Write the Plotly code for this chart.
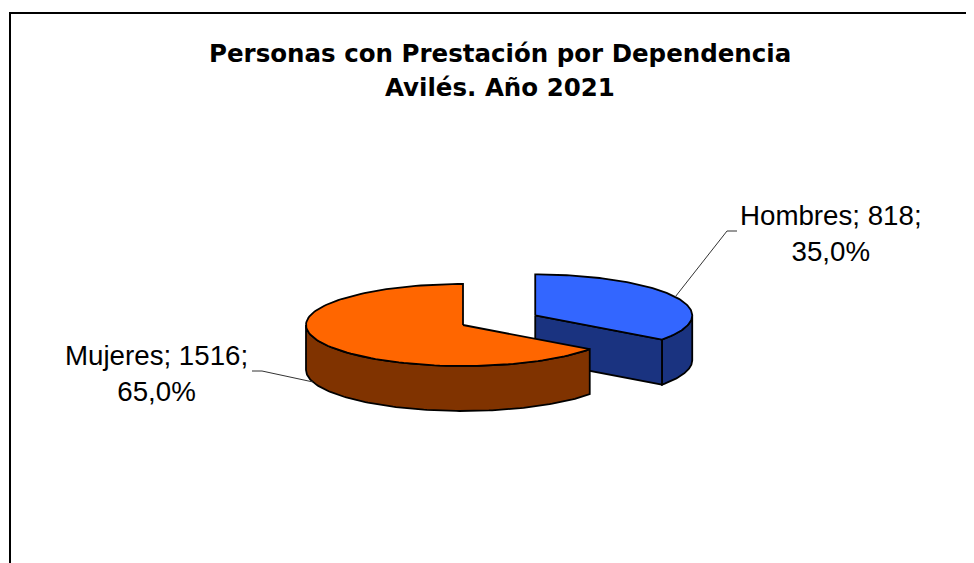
import math
import plotly.graph_objects as go

# ---- data ----
categories = ["Hombres", "Mujeres"]
values = [818, 1516]
title_lines = ["Personas con Prestación por Dependencia", "Avilés. Año 2021"]

# ---- style ----
top_colors = ["#3366FF", "#FF6600"]
side_colors = ["#1A3380", "#803300"]
W, H = 974, 563
PAGE_OFF = 8               # browser default body margin
CX, CY = 463, 325          # pie centre (pixel space)
RX, RY, DEPTH = 157, 41, 45
PULL = [81, 0]             # explosion distance per slice
LEADER_SHIFT = [0, -10]    # angular shift of leader anchor (deg)
LEADER_DROP = [0, 1.0]     # fraction of depth for leader anchor
LABEL_POS = [(831, 233), (156, 373)]
ELBOW = [[(727, 231), (737, 231)], [(262, 371), (252, 371)]]
OUTLINE = dict(color="black", width=1.8)
N = 120


def ell(cx, cy, th, dz=0.0):
    r = math.radians(th)
    return cx + RX * math.cos(r), cy - RY * math.sin(r) + dz


def arc(cx, cy, a, b, dz=0.0):
    pts = []
    for k in range(N + 1):
        th = a + (b - a) * k / N
        pts.append(ell(cx, cy, th, dz))
    return pts


def poly_trace(pts, fill):
    xs = [p[0] for p in pts] + [pts[0][0]]
    ys = [p[1] for p in pts] + [pts[0][1]]
    return go.Scatter(x=xs, y=ys, mode="lines", fill="toself", fillcolor=fill,
                      line=OUTLINE, hoverinfo="skip", showlegend=False)


total = sum(values)
slices = []
cw = 0.0
for i, v in enumerate(values):
    a0 = cw
    a1 = cw + v / total * 360.0
    cw = a1
    th_s = 90.0 - a0
    th_e = 90.0 - a1
    mid = (th_s + th_e) / 2.0
    m = math.radians(mid)
    cx = CX + PULL[i] * math.cos(m)
    cy = CY - PULL[i] * math.sin(m) * RY / RX
    slices.append(dict(i=i, th_s=th_s, th_e=th_e, mid=mid, cx=cx, cy=cy))

fig = go.Figure()

# draw back slices first
for s in sorted(slices, key=lambda d: -math.sin(math.radians(d["mid"]))):
    i, cx, cy = s["i"], s["cx"], s["cy"]
    lo, hi = s["th_e"], s["th_s"]
    # visible outer wall (front half)
    for k in range(-2, 3):
        a = max(lo, -180 + 360 * k)
        b = min(hi, 360 * k)
        if b > a:
            top = arc(cx, cy, a, b)
            bot = arc(cx, cy, b, a, DEPTH)
            fig.add_trace(poly_trace(top + bot, side_colors[i]))
    # visible radial faces
    for th, sign in ((lo, 1), (hi, -1)):
        if sign * math.cos(math.radians(th)) > 1e-6:
            p = ell(cx, cy, th)
            q = ell(cx, cy, th, DEPTH)
            fig.add_trace(poly_trace([(cx, cy), p, q, (cx, cy + DEPTH)], side_colors[i]))
    # top face
    fig.add_trace(poly_trace([(cx, cy)] + arc(cx, cy, hi, lo), top_colors[i]))

# leader lines and labels
for s in slices:
    i = s["i"]
    ax, ay = ell(s["cx"], s["cy"], s["mid"] + LEADER_SHIFT[i], DEPTH * LEADER_DROP[i])
    pts = [(ax, ay)] + ELBOW[i]
    fig.add_trace(go.Scatter(x=[p[0] for p in pts], y=[p[1] for p in pts], mode="lines",
                             line=dict(color="#333333", width=1), hoverinfo="skip",
                             showlegend=False))
    pct = values[i] / total * 100
    txt = f"{categories[i]}; {values[i]};<br>{pct:.1f}%".replace(".", ",")
    fig.add_annotation(x=LABEL_POS[i][0], y=LABEL_POS[i][1], xref="x", yref="y",
                       text=txt, showarrow=False, xanchor="center", yanchor="middle",
                       font=dict(family="Liberation Sans, Arial, sans-serif", size=27.7,
                                 color="black"))

for line, ty in zip(title_lines, (53, 87)):
    fig.add_annotation(x=500, y=ty, xref="x", yref="y", text=f"<b>{line}</b>",
                       showarrow=False, xanchor="center", yanchor="middle",
                       font=dict(family="DejaVu Sans, sans-serif", size=24.5, color="black"))

# frame
fig.add_shape(type="line", x0=9, x1=W + 5, y0=13, y1=13, xref="x", yref="y",
              line=dict(color="black", width=2))
fig.add_shape(type="line", x0=10, x1=10, y0=12, y1=H + 5, xref="x", yref="y",
              line=dict(color="black", width=2))

fig.update_layout(
    width=W - PAGE_OFF, height=H - PAGE_OFF, margin=dict(l=0, r=0, t=0, b=0),
    paper_bgcolor="white", plot_bgcolor="white",
    xaxis=dict(range=[PAGE_OFF, W], visible=False, fixedrange=True),
    yaxis=dict(range=[H, PAGE_OFF], visible=False, fixedrange=True),
    showlegend=False,
)

fig.write_html("out.html")
